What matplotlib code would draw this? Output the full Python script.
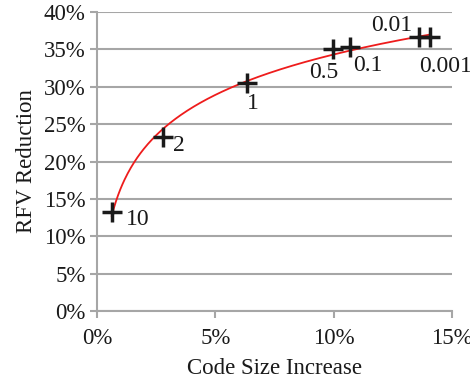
import numpy as np
import matplotlib
matplotlib.use("Agg")
import matplotlib.pyplot as plt
from matplotlib.ticker import FuncFormatter

plt.rcParams['font.family'] = ['Liberation Serif', 'DejaVu Serif']

labels = ["10", "2", "1", "0.5", "0.1", "0.01", "0.001"]
code_size = [0.63, 2.78, 6.33, 9.96, 10.7, 13.6, 14.05]
rfv_red = [13.2, 23.3, 30.5, 35.1, 35.3, 36.6, 36.6]
label_offsets = [(26, -7), (16, -9), (6, -21), (-9, -24), (18, -18), (-27, 12), (16, -29)]

fig = plt.figure(figsize=(4.7, 3.85), dpi=100)
ax = fig.add_axes([0.206, 0.192, 0.756, 0.777])

# logarithmic trendline fitted to the data
b, a = np.polyfit(np.log(code_size), rfv_red, 1)
xs = np.linspace(min(code_size), max(code_size), 300)
ax.plot(xs, a + b * np.log(xs), color='#ee1c1c', lw=1.3, zorder=3)

ax.plot(code_size, rfv_red, linestyle='none', marker='+', color='#1a1a1a',
        markersize=14, mew=2.5, zorder=4)

for lab, x, y, off in zip(labels, code_size, rfv_red, label_offsets):
    ax.annotate(lab, (x, y), xytext=off, textcoords='offset pixels',
                ha='center', va='center', fontsize=17, color='#1a1a1a')

ax.set_xlim(0, 15)
ax.set_ylim(0, 40)
ax.set_xticks([0, 5, 10, 15])
ax.set_yticks(np.arange(0, 41, 5))
fmt = FuncFormatter(lambda v, p: f"{v:.0f}%")
ax.xaxis.set_major_formatter(fmt)
ax.yaxis.set_major_formatter(fmt)

gray = '#a6a6a6'
ax.yaxis.grid(True, color=gray, lw=1.5)
ax.set_axisbelow(True)
for s in ['top', 'right']:
    ax.spines[s].set_visible(False)
for s in ['left', 'bottom']:
    ax.spines[s].set_color(gray)
    ax.spines[s].set_linewidth(1.5)
ax.tick_params(axis='both', colors=gray, width=1.5, length=5, labelsize=16.5,
               labelcolor='#1a1a1a')
ax.tick_params(axis='x', pad=7)
ax.tick_params(axis='y', pad=3)

ax.set_xlabel("Code Size Increase", fontsize=16.5, color='#1a1a1a', labelpad=7)
ax.set_ylabel("RFV Reduction", fontsize=16.5, color='#1a1a1a', labelpad=5)

fig.savefig("out.png", dpi=100)
